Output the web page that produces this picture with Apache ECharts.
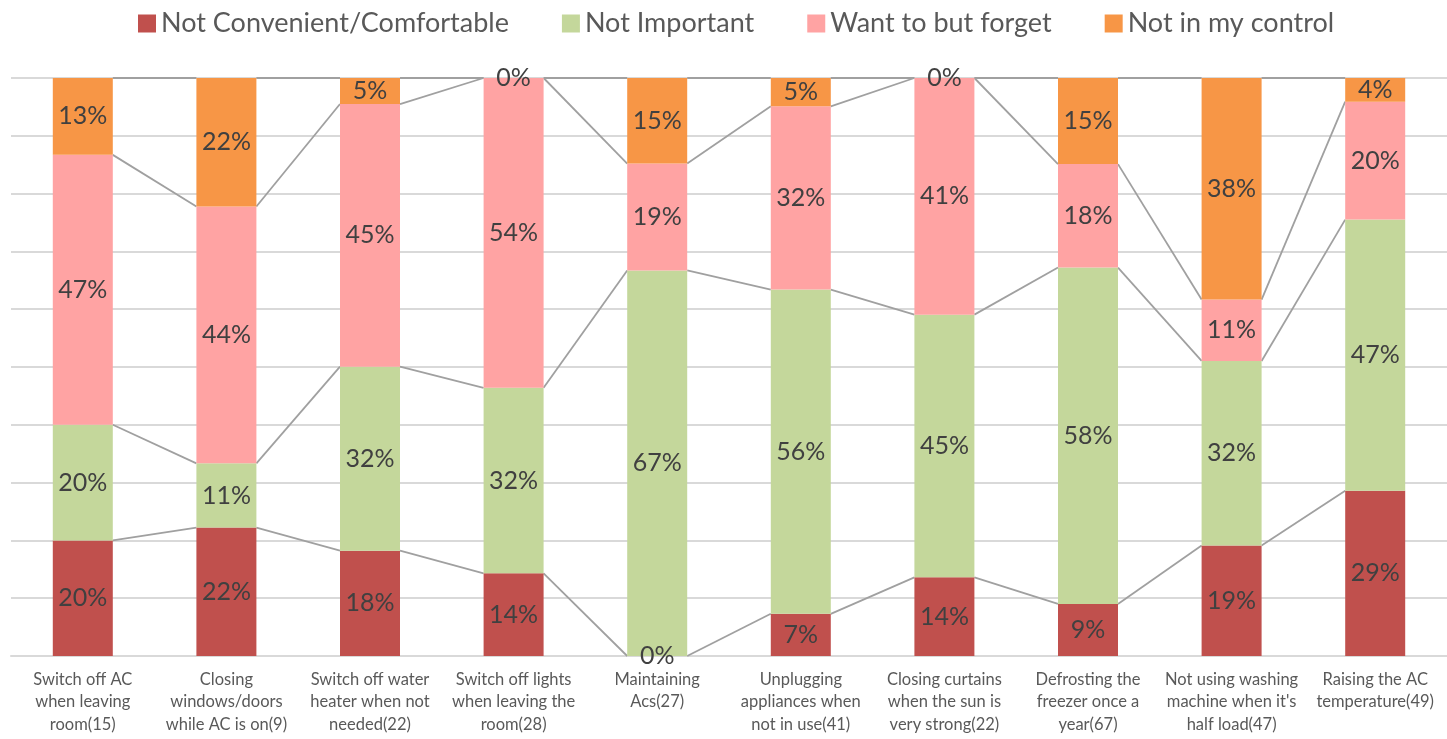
<!DOCTYPE html>
<html><head><meta charset="utf-8">
<script src="https://cdn.jsdelivr.net/npm/echarts@6/dist/echarts.min.js"></script>
<style>html,body{margin:0;padding:0;background:#fff}#c{width:1447px;height:739px}</style>
</head><body><div id="c"></div>
<script>
const categories = [
  "Switch off AC\nwhen leaving\nroom(15)",
  "Closing\nwindows/doors\nwhile AC is on(9)",
  "Switch off water\nheater when not\nneeded(22)",
  "Switch off lights\nwhen leaving the\nroom(28)",
  "Maintaining\nAcs(27)",
  "Unplugging\nappliances when\nnot in use(41)",
  "Closing curtains\nwhen the sun is\nvery strong(22)",
  "Defrosting the\nfreezer once a\nyear(67)",
  "Not using washing\nmachine when it's\nhalf load(47)",
  "Raising the AC\ntemperature(49)"
];
const seriesNames = ["Not Convenient/Comfortable", "Not Important", "Want to but forget", "Not in my control"];
const notConvenient = [20.0, 22.2, 18.2, 14.3, 0.0, 7.3, 13.6, 9.0, 19.1, 28.6];
const notImportant  = [20.0, 11.1, 31.8, 32.1, 66.7, 56.1, 45.4, 58.2, 31.9, 46.9];
const wantButForget = [46.7, 44.4, 45.4, 53.6, 18.5, 31.7, 40.9, 17.9, 10.6, 20.4];
const notInControl  = [13.3, 22.2, 4.5, 0.0, 14.8, 4.9, 0.0, 14.9, 38.3, 4.1];
const colors = ["#C0504D", "#C4D79B", "#FFA3A3", "#F79646"];

const allSeries = [notConvenient, notImportant, wantButForget, notInControl];
// normalise to 100% stack
const totals = categories.map((_, i) => allSeries.reduce((s, a) => s + a[i], 0));
const pct = allSeries.map(a => a.map((v, i) => v / totals[i] * 100));
const cum = [];
pct.forEach((a, s) => cum.push(a.map((v, i) => (s ? cum[s-1][i] : 0) + v)));

const BAR_W = 60;
const font = "Lato, 'Open Sans', sans-serif";

const barSeries = pct.map((a, s) => ({
  name: seriesNames[s], type: 'bar', stack: 'total', barWidth: BAR_W,
  itemStyle: { color: colors[s] },
  label: { show: true, position: 'inside', color: '#404040', fontSize: 25, fontFamily: font,
    formatter: p => Math.round(p.value) + '%' },
  data: a
}));

const lineData = [];
for (let i = 0; i < categories.length - 1; i++) {
  lineData.push([i, ...cum.map(c => c[i]), ...cum.map(c => c[i+1])]);
}
const seriesLines = {
  type: 'custom', silent: true, z: 1,
  renderItem: (params, api) => {
    const i = api.value(0);
    const children = [];
    for (let s = 0; s < 4; s++) {
      const a = api.coord([i, api.value(1 + s)]);
      const b = api.coord([i + 1, api.value(5 + s)]);
      children.push({ type: 'line',
        shape: { x1: a[0] + BAR_W / 2, y1: a[1], x2: b[0] - BAR_W / 2, y2: b[1] },
        style: { stroke: '#A0A0A0', lineWidth: 1.8 } });
    }
    return { type: 'group', children };
  },
  data: lineData
};

const chart = echarts.init(document.getElementById('c'));
chart.setOption({
  animation: false,
  color: colors,
  legend: {
    top: 5, left: 133, itemWidth: 18, itemHeight: 18, itemGap: 53,
    icon: 'rect',
    textStyle: { fontSize: 27, color: '#595959', fontFamily: font },
    data: seriesNames
  },
  grid: { left: 11, width: 1444, top: 78, bottom: 83 },
  xAxis: {
    type: 'category', data: categories,
    axisLine: { lineStyle: { color: '#D9D9D9', width: 2 } },
    axisTick: { show: false },
    axisLabel: { color: '#595959', fontSize: 16.5, fontFamily: font, lineHeight: 22.5, margin: 12, interval: 0 }
  },
  yAxis: {
    type: 'value', min: 0, max: 100, interval: 10,
    axisLabel: { show: false }, axisLine: { show: false }, axisTick: { show: false },
    splitLine: { lineStyle: { color: '#D9D9D9', width: 2 } }
  },
  series: [...barSeries, seriesLines]
});
</script></body></html>
